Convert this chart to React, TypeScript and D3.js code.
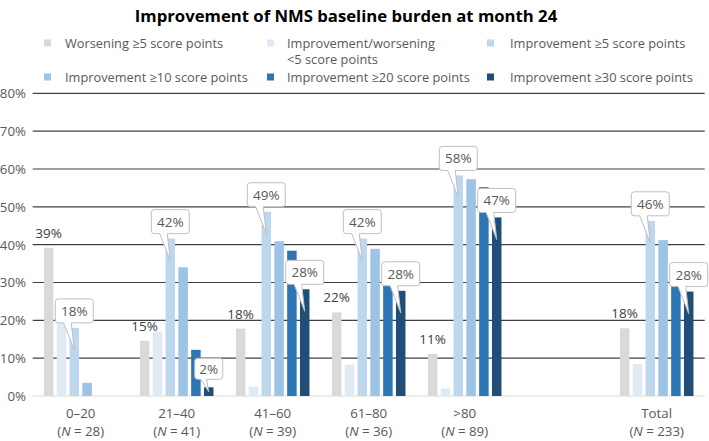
import React from "react";
import * as d3 from "d3";

const title = "Improvement of NMS baseline burden at month 24";
const categories = ["0–20", "21–40", "41–60", "61–80", ">80", "", "Total"];
const groupN = ["28", "41", "39", "36", "89", "", "233"];
const seriesNames = [
  "Worsening ≥5 score points",
  "Improvement/worsening <5 score points",
  "Improvement ≥5 score points",
  "Improvement ≥10 score points",
  "Improvement ≥20 score points",
  "Improvement ≥30 score points",
];
const seriesColors = ["#d9d9d9", "#deebf7", "#bdd7ee", "#9dc3e6", "#2e75b6", "#1f4e79"];
const worsening = [39.2, 14.6, 17.8, 22.1, 11.1, null, 17.9];
const stable = [20, 17, 2.5, 8.3, 2, null, 8.5];
const impr5 = [18, 41.6, 48.7, 41.6, 58.3, null, 46.3];
const impr10 = [3.5, 34, 40.9, 38.9, 57.3, null, 41.2];
const impr20 = [0, 12.2, 38.4, 30, 55.2, null, 29.5];
const impr30 = [0, 2.3, 28.2, 27.8, 47.2, null, 27.6];
const seriesValues = [worsening, stable, impr5, impr10, impr20, impr30];
const yTicks = [0, 10, 20, 30, 40, 50, 60, 70, 80];
// callouts: [group index, series index]
const calloutGroups = [0, 1, 1, 2, 2, 3, 3, 4, 4, 6, 6];
const calloutSeries = [2, 2, 5, 2, 5, 2, 5, 2, 5, 2, 5];

const FONT = "'Open Sans', sans-serif";
const TXT = "#595959";

function calloutPath(x: number, y: number, w: number, h: number, r: number, t1: number, t2: number, tx: number, ty: number) {
  return `M${x + r},${y} H${x + w - r} Q${x + w},${y} ${x + w},${y + r} V${y + h - r} Q${x + w},${y + h} ${x + w - r},${y + h} H${t2} L${tx},${ty} L${t1},${y + h} H${x + r} Q${x},${y + h} ${x},${y + h - r} V${y + r} Q${x},${y} ${x + r},${y} Z`;
}

export default function App() {
  const W = 709, H = 441;
  const x0 = d3.scaleBand<number>().domain(categories.map((_, i) => i)).range([32.7, 704.7]).paddingInner(0.234).paddingOuter(0.117);
  const x1 = d3.scaleBand<number>().domain(seriesNames.map((_, i) => i)).range([0, x0.bandwidth()]).paddingInner(0.258);
  const y = d3.scaleLinear().domain([0, 80]).range([396, 93.3]);

  const legendX = [[44, 65], [267, 287], [487, 510]];
  const legendY = [43, 77];

  return (
    <svg width={W} height={H} style={{ position: "absolute", left: 0, top: 0 }} fontFamily={FONT}>
      <rect width={W} height={H} fill="#fff" />
      <text x={346} y={22} textAnchor="middle" fontSize={16.7} fontWeight="bold" fill="#000">{title}</text>
      {seriesNames.map((name, i) => {
        const col = i % 3, row = Math.floor(i / 3);
        const lines = i === 1 ? ["Improvement/worsening", "<5 score points"] : [name];
        return (
          <g key={i}>
            <rect x={legendX[col][0]} y={legendY[row] - 3.5} width={7} height={7} fill={seriesColors[i]} />
            <text x={legendX[col][1]} y={legendY[row] + 4.5} fontSize={12.8} fill={TXT}>
              {lines.map((l, k) => (
                <tspan key={k} x={legendX[col][1]} dy={k === 0 ? 0 : 16.5}>{l}</tspan>
              ))}
            </text>
          </g>
        );
      })}
      {yTicks.filter(t => t > 0).map(t => (
        <line key={t} x1={32.7} x2={704.7} y1={y(t)} y2={y(t)} stroke="#404040" strokeWidth={1.2} />
      ))}
      <line x1={32.7} x2={704.7} y1={y(0)} y2={y(0)} stroke="#d9d9d9" strokeWidth={1} />
      {yTicks.map(t => (
        <text key={t} x={26} y={y(t) + 5} textAnchor="end" fontSize={13.3} fill={TXT}>{t}%</text>
      ))}
      {categories.map((c, gi) => (
        <g key={gi}>
          {seriesValues.map((vals, si) => {
            const v = vals[gi];
            if (v == null || v <= 0) return null;
            return <rect key={si} x={(x0(gi) as number) + (x1(si) as number)} y={y(v)} width={x1.bandwidth()} height={y(0) - y(v)} fill={seriesColors[si]} />;
          })}
          {c !== "" && (
            <>
              <text x={(x0(gi) as number) + x0.bandwidth() / 2} y={418} textAnchor="middle" fontSize={13.3} fill={TXT}>{c}</text>
              <text x={(x0(gi) as number) + x0.bandwidth() / 2} y={436} textAnchor="middle" fontSize={13.3} fill={TXT}>
                (<tspan fontStyle="italic">N</tspan> = {groupN[gi]})
              </text>
            </>
          )}
          {worsening[gi] != null && (
            <text x={(x0(gi) as number) + (x1(0) as number) + x1.bandwidth() / 2} y={y(worsening[gi] as number) - 10} textAnchor="middle" fontSize={13.5} fill="#404040">
              {Math.round(worsening[gi] as number)}%
            </text>
          )}
        </g>
      ))}
      {calloutGroups.map((gi, k) => {
        const si = calloutSeries[k];
        const v = seriesValues[si][gi] as number;
        const label = `${Math.round(v)}%`;
        const cx = (x0(gi) as number) + (x1(si) as number) + x1.bandwidth() / 2;
        const top = y(v);
        const w = label.length > 2 ? 38 : 28;
        const h = label.length > 2 ? 24 : 21;
        const bx = cx - w / 2;
        const by = top - (label.length > 2 ? 5 : 8) - h;
        const tipY = top + Math.min(22, (y(0) - top) * 0.5);
        const path = calloutPath(bx, by, w, h, 3, bx + 0.22 * w, bx + 0.42 * w, cx, tipY);
        return (
          <g key={k}>
            <path d={path} fill="#fff" stroke="#bfbfbf" strokeWidth={1} />
            <text x={cx} y={by + h / 2 + 5} textAnchor="middle" fontSize={13.5} fill={TXT}>{label}</text>
          </g>
        );
      })}
    </svg>
  );
}
